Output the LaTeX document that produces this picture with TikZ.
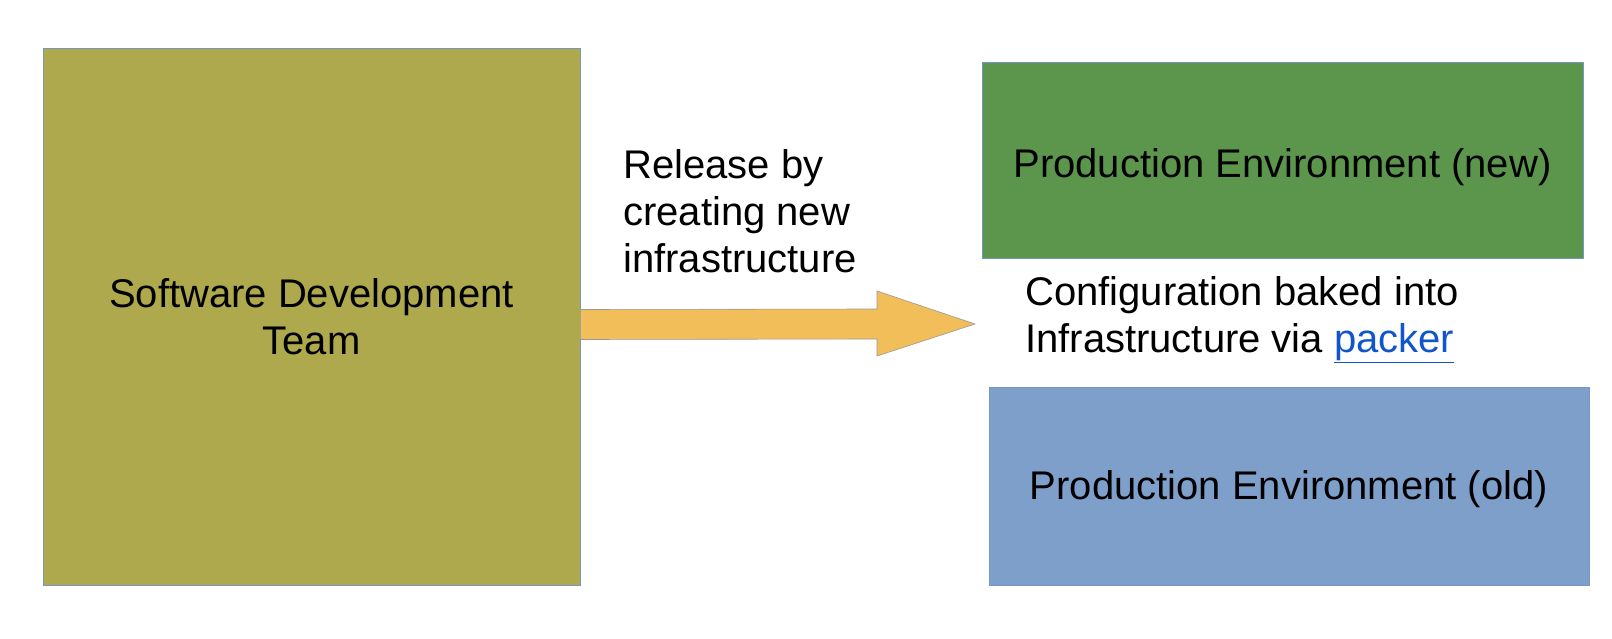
\documentclass[tikz,border=0pt]{standalone}
\usepackage{fontspec}
\setmainfont{Liberation Sans}
\definecolor{teamolive}{RGB}{173,169,76}
\definecolor{prodgreen}{RGB}{91,150,76}
\definecolor{prodblue}{RGB}{127,159,203}
\definecolor{releaseyellow}{RGB}{242,190,90}
\definecolor{edgeblue}{RGB}{120,150,195}
\definecolor{linkblue}{RGB}{17,85,204}
\usepackage{tikz}
\usetikzlibrary{positioning,calc}

\begin{document}
\begin{tikzpicture}[x=1pt,y=1pt,
    box/.style={draw=edgeblue, line width=0.8pt, inner sep=0pt, align=center,
                font=\fontsize{40}{47}\selectfont},
    note/.style={inner sep=0pt, anchor=west, align=left,
                 font=\fontsize{40}{47}\selectfont}]
    \useasboundingbox (0,0) rectangle (1612,638);
    % boxes
    \node[box, fill=teamolive, minimum width=537pt, minimum height=537pt] (team) at (311.5,321.5) {Software Development\\Team};
    \node[box, fill=prodgreen, minimum width=601pt, minimum height=196pt,
          label={[font=\fontsize{40}{47}\selectfont, yshift=-7pt]center:Production Environment (new)}] (prodnew) at (1282.5,478) {};
    \node[box, fill=prodblue, minimum width=600pt, minimum height=198pt,
          label={[font=\fontsize{40}{47}\selectfont, yshift=-3pt]center:Production Environment (old)}] (prodold) at (1289,152) {};
    % release arrow
    \coordinate (tip) at (975,314);
    \draw[draw=gray!80, fill=releaseyellow, line width=0.6pt]
        ($(team.east)+(0,7)$) -- ($(tip)+(-98,15)$) -- ($(tip)+(-98,33)$) -- (tip)
        -- ($(tip)+(-98,-32)$) -- ($(tip)+(-98,-15)$) -- ($(team.east)+(0,-23)$) -- cycle;
    % labels
    \node[note] (release) at (623,427) {Release by\\creating new\\infrastructure};
    \node[note] (baked) at (1025,318) {Configuration baked into\\Infrastructure via \textcolor{linkblue}{\underline{packer}}};
\end{tikzpicture}
\end{document}
